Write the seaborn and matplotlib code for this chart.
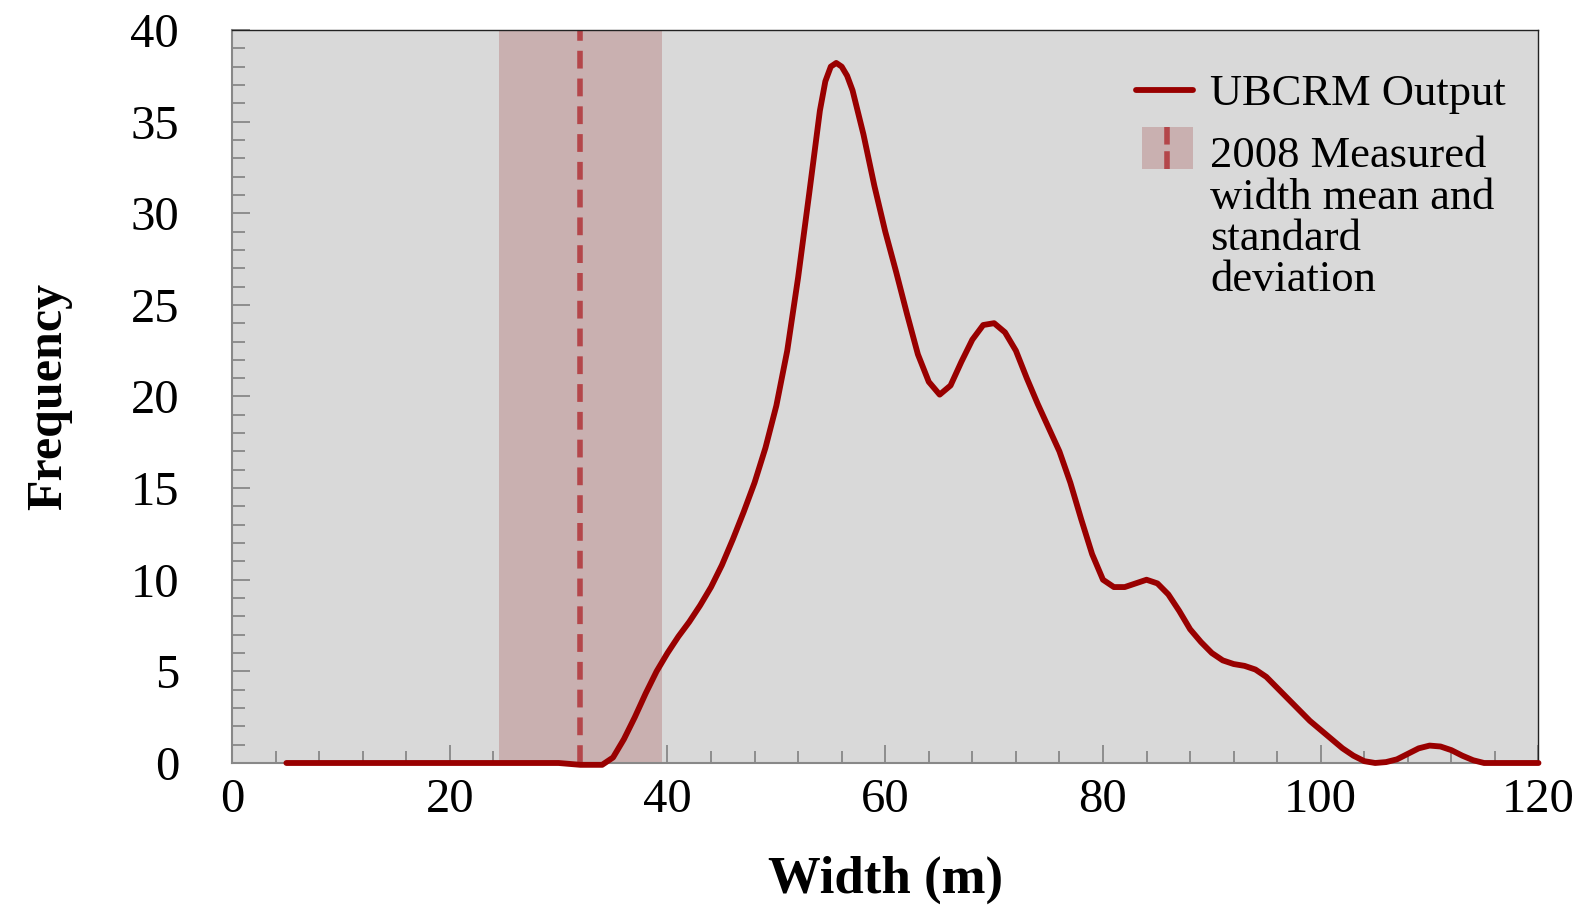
import numpy as np
import pandas as pd
import seaborn as sns
import matplotlib
matplotlib.use("Agg")
import matplotlib.pyplot as plt
from matplotlib.patches import Rectangle, Patch
from matplotlib.lines import Line2D
from matplotlib.legend_handler import HandlerBase
from matplotlib.ticker import MultipleLocator

# ---- data ----
width_m = [5, 10, 15, 20, 25, 30, 32, 34, 35, 36, 37, 38, 39, 40, 41, 42, 43, 44, 45,
           46, 47, 48, 49, 50, 51, 52, 53, 54, 54.5, 55, 55.5, 56, 56.5, 57, 58, 59,
           60, 61, 62, 63, 64, 65, 66, 67, 68, 69, 70, 71, 72, 73, 74, 75, 76, 77,
           78, 79, 80, 81, 82, 83, 84, 85, 86, 87, 88, 89, 90, 91, 92, 93, 94, 95,
           96, 97, 98, 99, 100, 101, 102, 103, 104, 105, 106, 107, 108, 109, 110,
           111, 112, 113, 114, 115, 117, 120]
frequency = [0, 0, 0, 0, 0, 0, -0.1, -0.1, 0.3, 1.3, 2.5, 3.8, 5.0, 6.0, 6.9, 7.7, 8.6,
             9.6, 10.8, 12.2, 13.7, 15.3, 17.2, 19.5, 22.5, 26.5, 31.0, 35.6, 37.2,
             38.0, 38.2, 38.0, 37.5, 36.7, 34.3, 31.5, 29.0, 26.8, 24.5, 22.3, 20.8,
             20.1, 20.6, 21.9, 23.1, 23.9, 24.0, 23.5, 22.5, 21.0, 19.6, 18.3, 17.0,
             15.3, 13.3, 11.4, 10.0, 9.6, 9.6, 9.8, 10.0, 9.8, 9.2, 8.3, 7.3, 6.6,
             6.0, 5.6, 5.4, 5.3, 5.1, 4.7, 4.1, 3.5, 2.9, 2.3, 1.8, 1.3, 0.8, 0.4,
             0.1, 0.0, 0.05, 0.2, 0.5, 0.8, 0.95, 0.9, 0.7, 0.4, 0.15, 0.0, 0.0, 0.0]
measured_mean = 32.0
measured_sd = 7.5

line_label = "UBCRM Output"
band_label = "2008 Measured\nwidth mean and\nstandard\ndeviation"
x_label = "Width (m)"
y_label = "Frequency"
x_ticks = [0, 20, 40, 60, 80, 100, 120]
y_ticks = [0, 5, 10, 15, 20, 25, 30, 35, 40]

# ---- style ----
LINE_C = "#990000"
BAND_C = "#c9b0b0"
DASH_C = "#b4464a"
BG_C = "#d9d9d9"

sns.set_theme(style="white")
plt.rcParams["font.family"] = ["Liberation Serif", "DejaVu Serif"]
plt.rcParams["text.color"] = "black"
plt.rcParams["axes.labelcolor"] = "black"
plt.rcParams["xtick.color"] = "black"
plt.rcParams["ytick.color"] = "black"

df = pd.DataFrame({"width": width_m, "freq": frequency})

fig = plt.figure(figsize=(15.91, 9.08), dpi=100)
ax = fig.add_axes([0.1458, 0.1597, 0.967 - 0.1458, 0.967 - 0.1597])
ax.set_facecolor(BG_C)

ax.axvspan(measured_mean - measured_sd, measured_mean + measured_sd,
           color=BAND_C, lw=0, zorder=1)
ax.axvline(measured_mean, color=DASH_C, lw=4, ls=(0, (3.2, 1.8)), zorder=2)
sns.lineplot(data=df, x="width", y="freq", ax=ax, color=LINE_C, lw=4.2,
             zorder=3, clip_on=False)

ax.set_xlim(0, 120)
ax.set_ylim(0, 40)
ax.set_xticks(x_ticks)
ax.set_yticks(y_ticks)
ax.xaxis.set_minor_locator(MultipleLocator(4))
ax.yaxis.set_minor_locator(MultipleLocator(1))
ax.tick_params(which="both", direction="in", color="#888888", width=1.3,
               labelsize=35, labelcolor="black", bottom=True, left=True,
               top=False, right=False)
ax.tick_params(which="major", length=13)
ax.tick_params(which="minor", length=9)
ax.tick_params(axis="x", which="major", pad=11)
ax.tick_params(axis="y", which="major", pad=38)
for s in ["left", "bottom"]:
    ax.spines[s].set_color("#888888")
    ax.spines[s].set_linewidth(1.5)
for s in ["top", "right"]:
    ax.spines[s].set_color("#222222")
    ax.spines[s].set_linewidth(1.0)

ax.set_xlabel(x_label, fontsize=38, fontweight="bold", labelpad=24)
ax.set_ylabel(y_label, fontsize=36, fontweight="bold", labelpad=42)


class BandHandler(HandlerBase):
    def __init__(self, yoff=0, **kw):
        super().__init__(**kw)
        self.yoff = yoff

    def create_artists(self, legend, orig_handle, xdescent, ydescent, width,
                       height, fontsize, trans):
        h = fontsize * 0.95
        y0 = -ydescent + height - h * 0.5 + self.yoff
        r = Rectangle((-xdescent + 4, y0), width - 4, h, facecolor=BAND_C,
                      edgecolor="none", transform=trans)
        cx = -xdescent + 4 + (width - 4) / 2
        ln = Line2D([cx, cx], [y0, y0 + h], color=DASH_C, lw=4,
                    ls=(0, (3.2, 1.2)), transform=trans)
        return [r, ln]


line_handle = Line2D([], [], color=LINE_C, lw=4.2)
band_handle = Patch(facecolor=BAND_C)
leg = ax.legend([line_handle, band_handle], [line_label, band_label],
                handler_map={Patch: BandHandler(yoff=39)},
                loc="upper left", bbox_to_anchor=(0.692, 0.94),
                frameon=False, fontsize=32, borderaxespad=0, borderpad=0,
                handlelength=1.27, handletextpad=0.4, labelspacing=0.5)
for t in leg.get_texts():
    t.set_linespacing(1.04)
    t.set_color("black")

fig.savefig("out.png", dpi=100, facecolor="white")
